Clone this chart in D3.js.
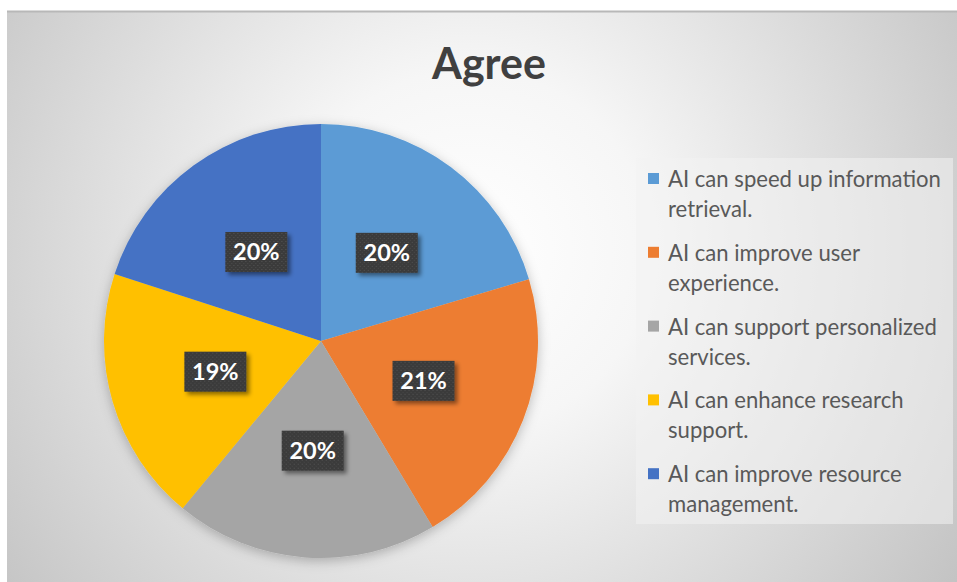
<!DOCTYPE html>
<html>
<head>
<meta charset="utf-8">
<script src="https://cdn.jsdelivr.net/npm/d3@7"></script>
<style>
  html, body { margin: 0; padding: 0; background: #ffffff; }
  svg { display: block; }
</style>
</head>
<body>
<svg id="chart" width="957" height="582"></svg>
<script>
// ---- data ----
const title = "Agree";
const categories = [
  "AI can speed up information retrieval.",
  "AI can improve user experience.",
  "AI can support personalized services.",
  "AI can enhance research support.",
  "AI can improve resource management."
];
const values = [20.4, 21.0, 19.6, 19.0, 20.0];
const colors = ["#5B9BD5", "#ED7D31", "#A5A5A5", "#FFC000", "#4472C4"];

// ---- layout ----
const W = 957, H = 582;
const area = { x: 7, y: 11, w: W - 7, h: H - 11 };
const cx = 321, cy = 341, R = 217;
const labelR = 110;

const svg = d3.select("#chart");
const defs = svg.append("defs");

const bg = defs.append("radialGradient")
  .attr("id", "bgGrad")
  .attr("gradientUnits", "userSpaceOnUse")
  .attr("cx", 470).attr("cy", 250).attr("r", 600);
bg.append("stop").attr("offset", "0").attr("stop-color", "#ffffff");
bg.append("stop").attr("offset", "0.3").attr("stop-color", "#f6f6f6");
bg.append("stop").attr("offset", "1").attr("stop-color", "#c2c2c2");

const pieShadow = defs.append("filter").attr("id", "pieShadow")
  .attr("x", "-20%").attr("y", "-20%").attr("width", "140%").attr("height", "140%");
pieShadow.append("feDropShadow").attr("dx", 0).attr("dy", 3)
  .attr("stdDeviation", 6).attr("flood-color", "#000").attr("flood-opacity", 0.25);

const boxShadow = defs.append("filter").attr("id", "boxShadow")
  .attr("x", "-30%").attr("y", "-30%").attr("width", "160%").attr("height", "160%");
boxShadow.append("feDropShadow").attr("dx", 3).attr("dy", 3)
  .attr("stdDeviation", 2).attr("flood-color", "#000").attr("flood-opacity", 0.45);

const pat = defs.append("pattern").attr("id", "dots")
  .attr("patternUnits", "userSpaceOnUse").attr("width", 4).attr("height", 4);
pat.append("rect").attr("width", 4).attr("height", 4).attr("fill", "#3a3a3a");
pat.append("rect").attr("x", 1).attr("y", 1).attr("width", 1).attr("height", 1).attr("fill", "#565656");
pat.append("rect").attr("x", 3).attr("y", 3).attr("width", 1).attr("height", 1).attr("fill", "#4c4c4c");

// background
svg.append("rect").attr("x", area.x).attr("y", area.y)
  .attr("width", area.w).attr("height", area.h).attr("fill", "url(#bgGrad)");
svg.append("line").attr("x1", area.x).attr("x2", W)
  .attr("y1", area.y + 0.5).attr("y2", area.y + 0.5)
  .attr("stroke", "#b8b8b8").attr("stroke-width", 2);

// title
const titleText = svg.append("text")
  .attr("x", 489).attr("y", 79)
  .attr("text-anchor", "middle")
  .attr("font-family", "Lato, 'Open Sans', sans-serif")
  .attr("font-weight", 700)
  .attr("font-size", 42)
  .attr("fill", "#404040")
  .text(title);
{
  const w = titleText.node().getComputedTextLength();
  titleText.attr("font-size", 42 * 114 / w);
}

// pie
const total = d3.sum(values);
const pie = d3.pie().sort(null).value(d => d)(values);
const arc = d3.arc().innerRadius(0).outerRadius(R);
const labelArc = d3.arc().innerRadius(labelR).outerRadius(labelR);
const color = d3.scaleOrdinal().domain(d3.range(values.length)).range(colors);
const fmt = d3.format(".0%");

const g = svg.append("g").attr("transform", `translate(${cx},${cy})`);
g.append("g").attr("filter", "url(#pieShadow)")
  .selectAll("path").data(pie).join("path")
  .attr("d", arc)
  .attr("fill", (d, i) => color(i));

const lbl = g.selectAll("g.lbl").data(pie).join("g")
  .attr("class", "lbl")
  .attr("transform", d => `translate(${labelArc.centroid(d)})`);
lbl.append("rect")
  .attr("x", -31).attr("y", -20).attr("width", 62).attr("height", 40)
  .attr("fill", "url(#dots)")
  .attr("filter", "url(#boxShadow)");
lbl.append("text")
  .attr("text-anchor", "middle")
  .attr("dy", "0.36em")
  .attr("font-family", "Lato, 'Open Sans', sans-serif")
  .attr("font-weight", 700)
  .attr("font-size", 23.5)
  .attr("fill", "#ffffff")
  .text(d => fmt(d.data / total));

// legend
const legend = svg.append("g");
legend.append("rect")
  .attr("x", 636).attr("y", 158).attr("width", 317).attr("height", 366)
  .attr("fill", "#f2f2f2").attr("fill-opacity", 0.55);

const lgFont = "Lato, 'Open Sans', sans-serif";
const maxLineW = 285;
const entryY0 = 187, entryStep = 73.8, lineH = 30;

const probe = legend.append("text").attr("font-family", lgFont).attr("font-size", 20)
  .text("AI can speed up information");
const lgSize = 20 * 273 / probe.node().getComputedTextLength();
probe.remove();

function wrap(str, size) {
  const words = str.split(" ");
  const t = legend.append("text").attr("font-family", lgFont).attr("font-size", size);
  const lines = [];
  let cur = "";
  words.forEach(wd => {
    const test = cur ? cur + " " + wd : wd;
    t.text(test);
    if (t.node().getComputedTextLength() > maxLineW && cur) {
      lines.push(cur); cur = wd;
    } else cur = test;
  });
  lines.push(cur);
  t.remove();
  return lines;
}

categories.forEach((c, i) => {
  const y = entryY0 + i * entryStep;
  legend.append("rect")
    .attr("x", 648).attr("y", y - 14).attr("width", 11).attr("height", 11)
    .attr("fill", color(i));
  const lines = wrap(c, lgSize);
  const t = legend.append("text")
    .attr("font-family", lgFont)
    .attr("font-size", lgSize)
    .attr("fill", "#595959");
  lines.forEach((ln, k) => {
    t.append("tspan").attr("x", 668).attr("y", y + k * lineH).text(ln);
  });
});
</script>
</body>
</html>
